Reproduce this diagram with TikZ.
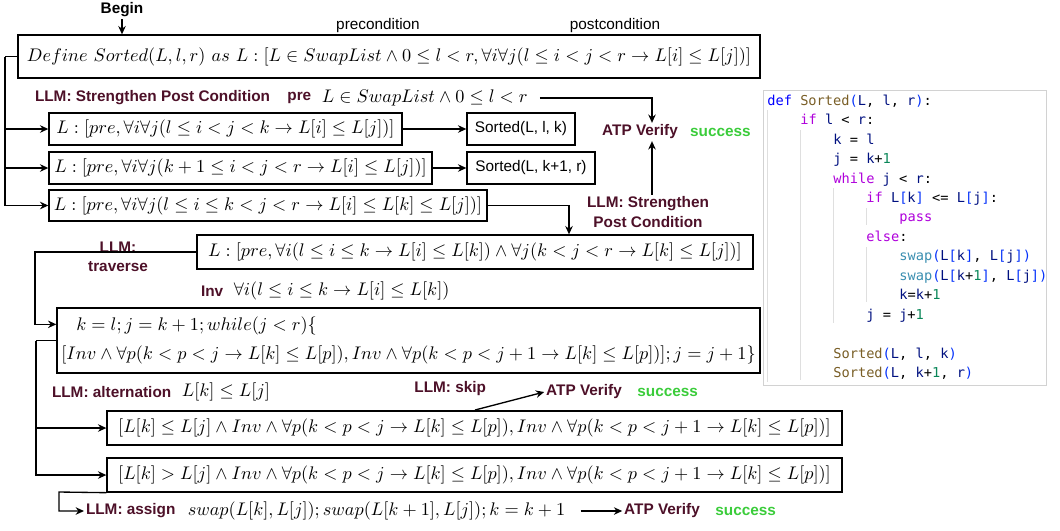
\documentclass[tikz,border=0pt]{standalone}
\usepackage{amsmath}
\usepackage{amssymb}
\usepackage{fontspec}
\setsansfont{Liberation Sans}
\newfontfamily\codefont{DejaVu Sans Mono}
\usepackage{tikz}
\usetikzlibrary{arrows.meta,positioning}

\definecolor{llmred}{RGB}{77,16,40}
\definecolor{okgreen}{RGB}{58,204,58}
\definecolor{cdef}{RGB}{0,0,255}
\definecolor{cfn}{RGB}{121,94,38}
\definecolor{cvar}{RGB}{0,16,128}
\definecolor{ckw}{RGB}{175,0,219}
\definecolor{cnum}{RGB}{9,134,88}
\definecolor{cbr}{RGB}{4,49,250}
\definecolor{cswap}{RGB}{58,142,176}

\newcommand{\cKw}[1]{\textcolor{ckw}{#1}}
\newcommand{\cFn}[1]{\textcolor{cfn}{#1}}
\newcommand{\cVr}[1]{\textcolor{cvar}{#1}}
\newcommand{\cNum}[1]{\textcolor{cnum}{#1}}
\newcommand{\cBr}[1]{\textcolor{cbr}{#1}}
\newcommand{\cSw}[1]{\textcolor{cswap}{#1}}

\begin{document}
\begin{tikzpicture}[
    x=0.6pt, y=-0.6pt,
    box/.style={draw, line width=0.8pt, inner sep=2pt, align=center, font=\fontsize{10.95}{13.5}\selectfont},
    form/.style={inner sep=1pt, font=\fontsize{10.95}{13.5}\selectfont},
    lab/.style={font=\sffamily\bfseries\fontsize{9.2}{11.5}\selectfont, text=llmred, inner sep=1pt, align=center},
    note/.style={font=\sffamily\fontsize{9.2}{11}\selectfont, inner sep=1pt},
    atp/.style={font=\sffamily\bfseries\fontsize{9.2}{11}\selectfont, text=llmred, inner sep=1pt},
    ok/.style={font=\sffamily\bfseries\fontsize{9.2}{11}\selectfont, text=okgreen, inner sep=1pt},
    arr/.style={-{Stealth[length=5pt,width=4.5pt]}, line width=0.8pt},
    wire/.style={line width=0.8pt},
    codeline/.style={font=\codefont\fontsize{8.2}{10}\selectfont, anchor=base west, inner sep=0pt},
    guide/.style={draw=gray!25, line width=0.6pt}
]
\useasboundingbox (0,0) rectangle (1060,530);

% top: definition
\node[note, font=\sffamily\bfseries\fontsize{9.2}{11}\selectfont] (begin) at (122,10) {Begin};
\node[box, minimum width=445.2pt, minimum height=25.8pt] (define) at (389,56.5)
    {$Define\ Sorted(L,l,r)\ as\ L:[L\in SwapList\wedge 0\le l<r,\forall i\forall j(l\le i<j<r\to L[i]\le L[j])]$};
\node[note] (precond) at (378,26) {precondition};
\node[note] (postcond) at (615,26) {postcondition};

% strengthen post condition
\node[lab, anchor=west] (llmpost) at (33,98) {LLM: Strengthen Post Condition};
\node[lab, right=8pt of llmpost] (pre) {pre};
\node[form, right=4pt of pre] (preform) {$L\in SwapList\wedge 0\le l<r$};
\node[atp] (atp1) at (640,132) {ATP Verify};
\node[ok, right=5pt of atp1] (ok1) {success};

\node[box, minimum width=211.8pt, minimum height=19.2pt] (left) at (225.5,129)
    {$L:[pre,\forall i\forall j(l\le i<j<k\to L[i]\le L[j])]$};
\node[box, minimum width=229.8pt, minimum height=19.2pt] (right) at (240.5,168)
    {$L:[pre,\forall i\forall j(k+1\le i<j<r\to L[i]\le L[j])]$};
\node[box, minimum width=262.8pt, minimum height=18.6pt] (split) at (268,205.5)
    {$L:[pre,\forall i\forall j(l\le i\le k<j<r\to L[i]\le L[k]\le L[j])]$};
\node[box, note, inner sep=2pt, minimum width=64.8pt, minimum height=19.2pt] (srtl) at (521,129) {Sorted(L, l, k)};
\node[box, note, inner sep=2pt, minimum width=76.8pt, minimum height=19.2pt] (srtr) at (531,168) {Sorted(L, k+1, r)};
\node[lab] (llmpost2) at (648,212) {LLM: Strengthen\\Post Condition};

% partition
\node[box, minimum width=333.6pt, minimum height=20.4pt] (part) at (475,252)
    {$L:[pre,\forall i(l\le i\le k\to L[i]\le L[k])\wedge\forall j(k<j<r\to L[k]\le L[j])]$};
\node[lab] (llmtrav) at (118,257) {LLM:\\traverse};
\node[lab, anchor=west] (inv) at (199,291) {Inv};
\node[form, right=4pt of inv] (invform) {$\forall i(l\le i\le k\to L[i]\le L[k])$};

% loop
\node[box, align=left, minimum width=421.8pt, minimum height=39pt] (loop) at (408.5,340.5)
    {\hspace{9pt}$k=l;j=k+1;while(j<r)\{$\\[4pt]
     $[Inv\wedge\forall p(k<p<j\to L[k]\le L[p]),Inv\wedge\forall p(k<p<j+1\to L[k]\le L[p])];j=j+1\}$};

% alternation
\node[lab, anchor=west] (llmalt) at (50,392) {LLM: alternation};
\node[form, right=4pt of llmalt] (altform) {$L[k]\le L[j]$};
\node[lab, anchor=east] (llmskip) at (488,389) {LLM: skip};
\node[atp] (atp2) at (584,392) {ATP Verify};
\node[ok, right=7pt of atp2] (ok2) {success};
\node[box, minimum width=441pt, minimum height=20.4pt] (le) at (474.5,428)
    {$[L[k]\le L[j]\wedge Inv\wedge\forall p(k<p<j\to L[k]\le L[p]),Inv\wedge\forall p(k<p<j+1\to L[k]\le L[p])]$};
\node[box, minimum width=441pt, minimum height=20.4pt] (gt) at (474.5,475)
    {$[L[k]>L[j]\wedge Inv\wedge\forall p(k<p<j\to L[k]\le L[p]),Inv\wedge\forall p(k<p<j+1\to L[k]\le L[p])]$};

% assign
\node[lab, anchor=west] (assign) at (84,511) {LLM: assign};
\node[form, right=5pt of assign] (swapform) {$swap(L[k],L[j]);swap(L[k+1],L[j]);k=k+1$};
\node[atp] (atp3) at (662,511) {ATP Verify};
\node[ok, right=7pt of atp3] (ok3) {success};

% rails
\coordinate (railA) at (5,56.5);
\coordinate (drop) at (569,0);
\coordinate (up) at (652,0);
\coordinate (railB) at (35,252);
\coordinate (railC) at (36,340.5);
\coordinate (railD) at (59,492);
\coordinate (skipfoot) at (475,410);

\draw[arr] (begin) -- (begin |- define.north);
\draw[wire] (define.west) -- (railA);
\draw[arr] (railA) |- (left.west);
\draw[arr] (railA) |- (right.west);
\draw[arr] (railA) |- (split.west);
\draw[arr] (left) -- (srtl);
\draw[arr] (right) -- (srtr);
\draw[arr, shorten <=6pt] (preform.east) -| (up |- atp1.north);
\draw[arr] (llmpost2.north -| up) -- (up |- atp1.south);
\draw[arr] (split.east) -| (drop |- part.north);
\draw[arr] (part.west) -- (railB) |- ([yshift=-10.2pt]loop.north west);
\draw[wire] (loop.west) -- (railC);
\draw[arr] (railC) |- (le.west);
\draw[arr] (railC) |- (gt.west);
\draw[arr] (skipfoot) -- (atp2.west);
\draw[arr] (gt.south west) -- (railD) |- (assign.west);
\draw[arr, shorten <=8pt] (swapform.east) -- (atp3.west);

% code listing
\node[draw=gray!35, line width=0.6pt, minimum width=169.8pt, minimum height=177pt, inner sep=0pt] (code) at (904.5,237.5) {};
\draw[guide] (767,110) -- (767,382);
\draw[guide] (800,130) -- (800,380);
\draw[guide] (833,188) -- (833,323);
\draw[guide] (866,208) -- (866,225);
\draw[guide] (866,247) -- (866,302);
\node[codeline] (c1) at (767,105) {\textcolor{cdef}{def} \cFn{Sorted}\cBr{(}\cVr{L}, \cVr{l}, \cVr{r}\cBr{)}:};
\node[codeline] (c2) at (800,124.5) {\cKw{if} \cVr{l} < \cVr{r}:};
\node[codeline] (c3) at (833,144) {\cVr{k} = \cVr{l}};
\node[codeline] (c4) at (833,163.5) {\cVr{j} = \cVr{k}+\cNum{1}};
\node[codeline] (c5) at (833,183) {\cKw{while} \cVr{j} < \cVr{r}:};
\node[codeline] (c6) at (866,202) {\cKw{if} \cVr{L}\cBr{[}\cVr{k}\cBr{]} <= \cVr{L}\cBr{[}\cVr{j}\cBr{]}:};
\node[codeline] (c7) at (899,221.5) {\cKw{pass}};
\node[codeline] (c8) at (866,241) {\cKw{else}:};
\node[codeline] (c9) at (899,260.5) {\cSw{swap}\cBr{(}\cVr{L}\cBr{[}\cVr{k}\cBr{]}, \cVr{L}\cBr{[}\cVr{j}\cBr{]}\cBr{)}};
\node[codeline] (c10) at (899,280) {\cSw{swap}\cBr{(}\cVr{L}\cBr{[}\cVr{k}+\cNum{1}\cBr{]}, \cVr{L}\cBr{[}\cVr{j}\cBr{]}\cBr{)}};
\node[codeline] (c11) at (899,299.5) {\cVr{k}=\cVr{k}+\cNum{1}};
\node[codeline] (c12) at (866,319) {\cVr{j} = \cVr{j}+\cNum{1}};
\node[codeline] (c13) at (833,358) {\cFn{Sorted}\cBr{(}\cVr{L}, \cVr{l}, \cVr{k}\cBr{)}};
\node[codeline] (c14) at (833,377.5) {\cFn{Sorted}\cBr{(}\cVr{L}, \cVr{k}+\cNum{1}, \cVr{r}\cBr{)}};
\end{tikzpicture}
\end{document}
